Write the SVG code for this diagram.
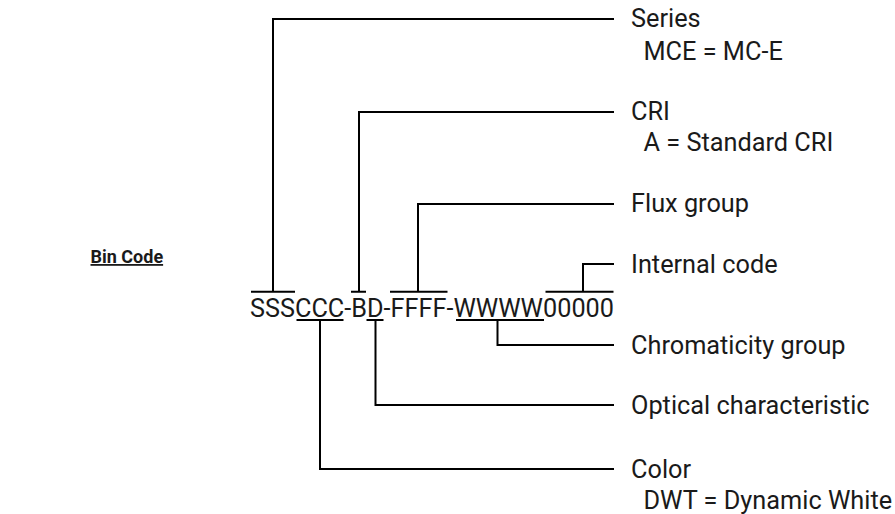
<svg xmlns="http://www.w3.org/2000/svg" width="895" height="514" viewBox="0 0 895 514">
<style>
text{font-family:Roboto,"Liberation Sans",sans-serif;fill:#1a1a1a}
.lbl{font-size:25.3px}
.code{font-size:25px}
.title{font-size:18px;font-weight:bold;text-decoration:underline}
.c{fill:none;stroke:#000;stroke-width:2;stroke-linecap:butt;stroke-linejoin:miter}
</style>
<rect width="895" height="514" fill="#fff"/>
<g id="title"><text class="title" x="90.5" y="263">Bin Code</text></g>
<g id="code"><text class="code" x="250" y="316.5" textLength="364" lengthAdjust="spacingAndGlyphs">SSSCCC-BD-FFFF-WWWW00000</text></g>
<g id="connectors">
  <path class="c" d="M251 291.7H295M273 291.7V19H614"/>
  <path class="c" d="M351 291.7H366M359 291.7V112H614"/>
  <path class="c" d="M390 291.7H447.5M418 291.7V204H614"/>
  <path class="c" d="M545.5 291.7H613.5M583 291.7V264H614"/>
  <path class="c" d="M296.5 320H343.5M320 320V469H614"/>
  <path class="c" d="M366.5 320H383.5M375.5 320V405H614"/>
  <path class="c" d="M456 320H544M497.5 320V345H614"/>
</g>
<g id="series"><text class="lbl" x="631" y="27">Series</text><text class="lbl" x="643.5" y="59.5">MCE = MC-E</text></g>
<g id="cri"><text class="lbl" x="631" y="120">CRI</text><text class="lbl" x="643.5" y="151">A = Standard CRI</text></g>
<g id="flux"><text class="lbl" x="631" y="212">Flux group</text></g>
<g id="internal"><text class="lbl" x="631" y="273">Internal code</text></g>
<g id="chroma"><text class="lbl" x="631" y="354">Chromaticity group</text></g>
<g id="optical"><text class="lbl" x="631" y="414">Optical characteristic</text></g>
<g id="color"><text class="lbl" x="631" y="478">Color</text><text class="lbl" x="643.5" y="509">DWT = Dynamic White</text></g>
</svg>
